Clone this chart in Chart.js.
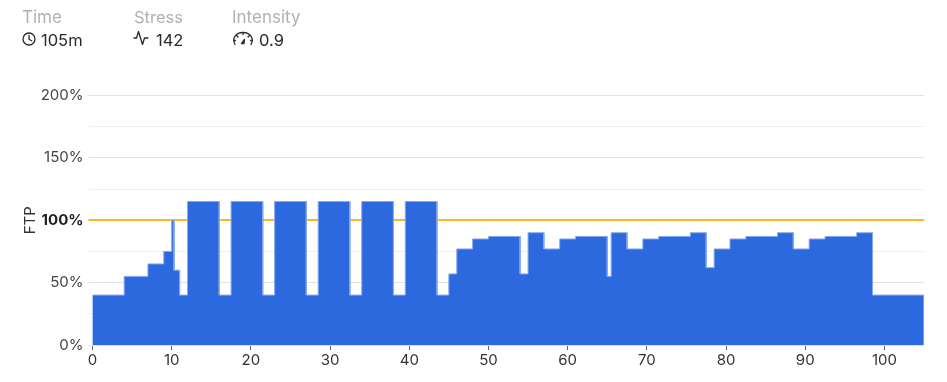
<!DOCTYPE html>
<html><head><meta charset="utf-8">
<script src="https://cdn.jsdelivr.net/npm/chart.js@4"></script>
<style>
html,body{margin:0;padding:0;background:#fff;width:947px;height:382px;overflow:hidden;font-family:Inter,"Noto Sans",sans-serif}
#wrap{position:absolute;left:0;top:0;width:947px;height:382px}
canvas{position:absolute;left:0;top:0}
.lab{position:absolute;top:8px;font-size:17px;line-height:18px;color:#b0b0b0}
.val{position:absolute;top:31px;font-size:16.5px;line-height:18px;color:#2a2a2a}
svg{position:absolute;fill:none;stroke:#2a2a2a;stroke-width:1.3;stroke-linecap:round;stroke-linejoin:round}
</style></head><body>
<div id="wrap"><canvas id="c" width="947" height="382"></canvas>
<div class="lab" style="left:22px">Time</div>
<svg style="left:22px;top:32px" width="14" height="14" viewBox="0 0 14 14"><circle cx="7" cy="7" r="6"/><path d="M7 3.5V7.3L9.6 8.8"/></svg>
<div class="val" style="left:41px">105m</div>
<div class="lab" style="left:134px;font-size:16.5px">Stress</div>
<svg style="left:133px;top:30px" width="16" height="16" viewBox="0 0 16 16"><path d="M1 8H3.5L5.5 1.5L9.5 14.5L11.5 8H15"/></svg>
<div class="val" style="left:156px">142</div>
<div class="lab" style="left:232px">Intensity</div>
<svg style="left:232px;top:31px" width="22" height="15" viewBox="0 0 22 15"><path d="M3 13.5C-0.5 7 4 1.500 11 1.500C18 1.500 22.500 7 19 13.5"/><path d="M11 1.500V3.500M4.500 4.500L6 6M17.500 4.500L16 6M2 9.500H3.500M20 9.500H18.500"/><path d="M9.500 12.500L12.500 8.500L12 12.500Z"/></svg>
<div class="val" style="left:259px">0.9</div>
</div>
<script>
const stepStarts=[0,4,7,9,10,10.3,11,12,16,17.5,21.5,23,27,28.5,32.5,34,38,39.5,43.5,45,46,48,50,54,55,57,59,61,65,65.5,67.5,69.5,71.5,75.5,77.5,78.5,80.5,82.5,86.5,88.5,90.5,92.5,96.5,98.5];
const stepPower=[40,55,65,75,100,60,40,115,40,115,40,115,40,115,40,115,40,115,40,57,77,85,87,57,90,77,85,87,55,90,77,85,87,90,62,77,85,87,90,77,85,87,90,40];
const totalMinutes=105;
const yTicks=[0,25,50,75,100,125,150,175,200];
const xTicks=[0,10,20,30,40,50,60,70,80,90,100];

const profile=[];
stepStarts.forEach((s,i)=>{
  const e=i+1<stepStarts.length?stepStarts[i+1]:totalMinutes;
  profile.push({x:s,y:stepPower[i]},{x:e,y:stepPower[i]});
});
const outline=[{x:0,y:0},...profile,{x:totalMinutes,y:0},{x:0,y:0}];

const font='Inter,"Noto Sans",sans-serif';
const tv=c=>c.tick?c.tick.value:-1;
new Chart(document.getElementById('c'),{
  type:'line',
  data:{datasets:[
    {data:outline,parsing:false,pointRadius:0,borderColor:'#86a9ee',borderWidth:1,fill:false,tension:0},
    {data:profile,parsing:false,pointRadius:0,borderWidth:0,backgroundColor:'#2c69de',fill:'origin',tension:0}
  ]},
  options:{
    responsive:false,animation:false,
    layout:{padding:{top:95.5,right:23,left:21,bottom:0}},
    plugins:{legend:{display:false},tooltip:{enabled:false}},
    scales:{
      x:{type:'linear',min:0,max:totalMinutes,
        afterBuildTicks:a=>{a.ticks=xTicks.map(v=>({value:v}))},
        grid:{drawOnChartArea:false,drawTicks:true,tickLength:5,color:'#666'},
        border:{display:false},
        ticks:{autoSkip:false,maxRotation:0,padding:1,color:'#333',font:{family:font,size:15}},
        afterFit:a=>{a.height=37}
      },
      y:{min:0,max:200,
        afterBuildTicks:a=>{a.ticks=yTicks.map(v=>({value:v}))},
        grid:{drawTicks:true,tickLength:4,
          color:c=>tv(c)===100?'#fdb525':(tv(c)%50===0?'#e2e2e6':'#efeff1'),
          lineWidth:c=>tv(c)===100?2:1},
        border:{display:false},
        ticks:{autoSkip:false,padding:5,
          callback:v=>v%50===0?v+'%':'',
          color:c=>tv(c)===100?'#222':'#444',
          font:c=>({family:font,size:15,weight:tv(c)===100?'bold':'normal'})},
        title:{display:true,text:'FTP',color:'#333',font:{family:font,size:15},padding:0},
        afterFit:a=>{a.width=71.5}
      }
    }
  }
});
</script></body></html>
